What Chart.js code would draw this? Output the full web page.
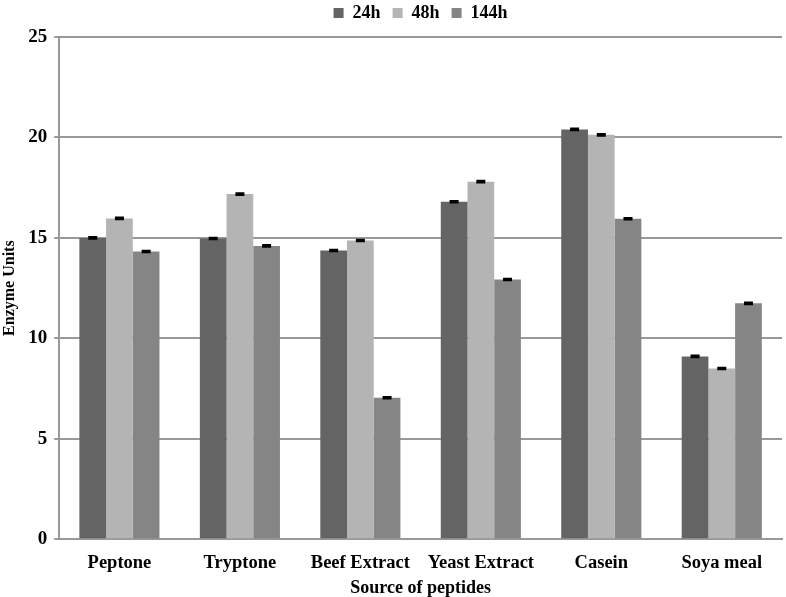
<!DOCTYPE html>
<html lang="en">
<head>
  <meta charset="UTF-8" />
  <title>Enzyme Units by Source of peptides</title>
  <script src="https://cdn.jsdelivr.net/npm/chart.js"></script>
  <style>
    html, body { margin: 0; padding: 0; background: #fff; }
    .chart-box { width: 786px; height: 597px; }
  </style>
</head>
<body>
  <div class="chart-box">
    <canvas id="enzymeChart" width="786" height="597"></canvas>
  </div>

  <script>
    // Data
    const categories = ['Peptone', 'Tryptone', 'Beef Extract', 'Yeast Extract', 'Casein', 'Soya meal'];
    const h24 = [15.0, 14.97, 14.37, 16.8, 20.4, 9.1];
    const h48 = [15.97, 17.18, 14.87, 17.8, 20.13, 8.5];
    const h144 = [14.32, 14.6, 7.04, 12.93, 15.95, 11.74];
    const err24 = [0.04, 0.04, 0.04, 0.04, 0.04, 0.04];
    const err48 = [0.04, 0.04, 0.04, 0.04, 0.04, 0.04];
    const err144 = [0.04, 0.04, 0.04, 0.04, 0.04, 0.04];
    const yTicks = [0, 5, 10, 15, 20, 25];

    const serif = "'Liberation Serif', 'Times New Roman', serif";

    // small black caps on top of each bar
    const errorBars = {
      id: 'errorBars',
      afterDatasetsDraw(chart) {
        const ctx = chart.ctx;
        const y = chart.scales.y;
        ctx.save();
        ctx.strokeStyle = '#000';
        ctx.lineWidth = 2;
        chart.data.datasets.forEach((ds, i) => {
          const meta = chart.getDatasetMeta(i);
          meta.data.forEach((bar, j) => {
            const v = ds.data[j];
            const e = ds.errors[j];
            const top = y.getPixelForValue(v + e);
            const bot = y.getPixelForValue(v - e);
            ctx.beginPath();
            ctx.moveTo(bar.x, top);
            ctx.lineTo(bar.x, bot);
            ctx.moveTo(bar.x - 4.5, top);
            ctx.lineTo(bar.x + 4.5, top);
            ctx.moveTo(bar.x - 4.5, bot);
            ctx.lineTo(bar.x + 4.5, bot);
            ctx.stroke();
          });
        });
        ctx.restore();
      }
    };

    // a bit more room under the legend
    const legendGap = {
      id: 'legendGap',
      beforeInit(chart) {
        const fit = chart.legend.fit;
        chart.legend.fit = function () {
          fit.bind(chart.legend)();
          this.height += 5;
        };
      }
    };

    const ctx = document.getElementById('enzymeChart').getContext('2d');
    const enzymeChart = new Chart(ctx, {
      type: 'bar',
      data: {
        labels: categories,
        datasets: [
          { label: '24h', data: h24, errors: err24, backgroundColor: '#646464' },
          { label: '48h', data: h48, errors: err48, backgroundColor: '#b4b4b4' },
          { label: '144h', data: h144, errors: err144, backgroundColor: '#858585' }
        ]
      },
      options: {
        responsive: false,
        animation: false,
        layout: { padding: { top: -8, right: 4, bottom: -2, left: 0 } },
        datasets: {
          bar: { categoryPercentage: 0.665, barPercentage: 1.0 }
        },
        plugins: {
          tooltip: { enabled: false },
          legend: {
            position: 'top',
            fullSize: false,
            labels: {
              color: '#000',
              font: { family: serif, size: 18, weight: 'bold' },
              boxWidth: 10,
              boxHeight: 10,
              padding: 12
            }
          }
        },
        scales: {
          x: {
            grid: { display: false, drawTicks: false },
            border: { color: '#999', width: 2 },
            ticks: {
              color: '#000',
              padding: 13,
              font: { family: serif, size: 18.5, weight: 'bold' }
            },
            title: {
              display: true,
              text: 'Source of peptides',
              color: '#000',
              padding: { top: -10, bottom: 0 },
              font: { family: serif, size: 18, weight: 'bold' }
            }
          },
          y: {
            min: 0,
            max: 25,
            afterBuildTicks: (axis) => { axis.ticks = yTicks.map(v => ({ value: v })); },
            grid: { color: '#999', lineWidth: 2, tickLength: 5 },
            border: { color: '#999', width: 2 },
            ticks: {
              color: '#000',
              padding: 7,
              font: { family: serif, size: 19, weight: 'bold' }
            },
            title: {
              display: true,
              text: 'Enzyme Units',
              color: '#000',
              padding: { top: 0, bottom: 2 },
              font: { family: serif, size: 16, weight: 'bold' }
            }
          }
        }
      },
      plugins: [errorBars, legendGap]
    });
  </script>
</body>
</html>
